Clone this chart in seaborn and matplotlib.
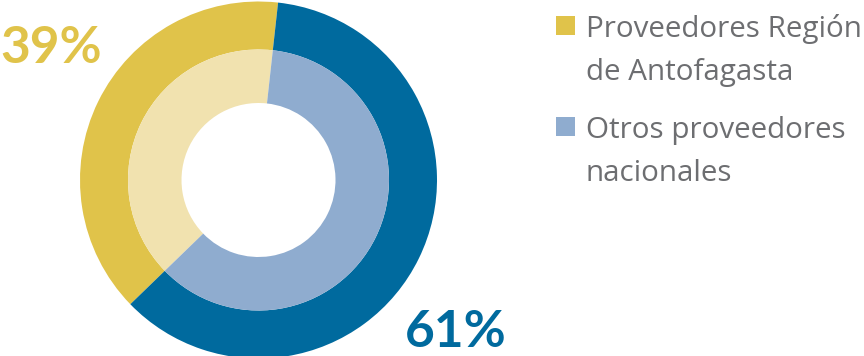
import matplotlib
matplotlib.use("Agg")
import matplotlib.pyplot as plt
from matplotlib.patches import Rectangle
import seaborn as sns

sns.set_theme(style="white")
plt.rcParams['font.family'] = ['Open Sans', 'DejaVu Sans']

# data
categories = ["Proveedores Región de Antofagasta", "Otros proveedores nacionales"]
values = [39, 61]
pct_labels = ["39%", "61%"]
legend_lines = [["Proveedores Región", "de Antofagasta"], ["Otros proveedores", "nacionales"]]
outer_colors = ["#E0C34A", "#006A9E"]
inner_colors = ["#F1E2AF", "#8FACCF"]
legend_colors = ["#E0C34A", "#8FACCF"]

W, H = 864, 356
fig = plt.figure(figsize=(W / 100, H / 100), dpi=100)
ax = fig.add_axes([0, 0, 1, 1])
ax.set_xlim(0, W)
ax.set_ylim(0, H)
ax.set_aspect('equal')
ax.axis('off')

cx, cy = 258.5, H - 180
R_out, R_mid, R_hole = 178.5, 130.5, 77
start = 83.7

ax.pie(values, colors=outer_colors, radius=R_out, center=(cx, cy), startangle=start,
       counterclock=True, wedgeprops=dict(width=R_out - R_mid, linewidth=0))
ax.pie(values, colors=inner_colors, radius=R_mid, center=(cx, cy), startangle=start,
       counterclock=True, wedgeprops=dict(width=R_mid - R_hole, linewidth=0))
ax.set_xlim(0, W)
ax.set_ylim(0, H)

# percentage labels
pct_font = dict(family=['Lato', 'DejaVu Sans'], fontsize=37, fontweight='bold')
ax.text(0, H - 63, pct_labels[0], color=outer_colors[0], ha='left', va='baseline', **pct_font)
ax.text(405, H - 347, pct_labels[1], color=outer_colors[1], ha='left', va='baseline', **pct_font)

# legend
text_color = "#6D6E71"
baselines = [37, 138]
for i, lines in enumerate(legend_lines):
    b = baselines[i]
    ax.add_patch(Rectangle((556, H - (b - 2)), 19, 19, color=legend_colors[i], lw=0))
    for j, line in enumerate(lines):
        ax.text(586, H - (b + 43 * j), line, color=text_color, fontsize=21.3,
                ha='left', va='baseline')

fig.savefig("out.png", dpi=100, facecolor="white")
